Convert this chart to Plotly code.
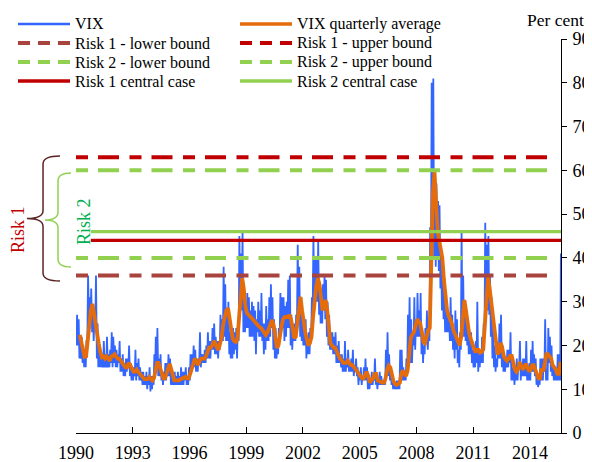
import plotly.graph_objects as go

# Monthly high / low of the daily VIX, Jan 1990 - Aug 2015
vix_high = [
    27, 26, 21, 22, 20, 19, 21, 36, 31, 33, 28, 26,  # 1990
    36, 25, 20, 19, 18, 21, 18, 22, 18, 19, 23, 22,  # 1991
    20, 19, 18, 21, 17, 18, 16, 17, 17, 20, 16, 15,  # 1992
    15, 19, 16, 17, 15, 14, 14, 13, 14, 13, 15, 13,  # 1993
    13, 18, 22, 24, 17, 18, 14, 14, 16, 16, 18, 17,  # 1994
    14, 13, 14, 13, 14, 13, 15, 14, 14, 15, 13, 15,  # 1995
    18, 18, 20, 19, 17, 17, 23, 18, 18, 19, 20, 23,  # 1996
    21, 21, 24, 25, 22, 21, 21, 27, 26, 38, 34, 27,  # 1997
    30, 23, 22, 24, 23, 24, 24, 45, 41, 46, 30, 30,  # 1998
    32, 31, 28, 30, 29, 28, 26, 30, 28, 32, 25, 25,  # 1999
    29, 26, 31, 34, 31, 26, 24, 20, 24, 32, 31, 31,  # 2000
    29, 30, 35, 36, 27, 24, 25, 27, 43, 38, 30, 26,  # 2001
    26, 26, 22, 23, 24, 31, 45, 40, 40, 44, 34, 32,  # 2002
    34, 36, 35, 30, 27, 23, 23, 22, 23, 20, 21, 18,  # 2003
    18, 17, 21, 17, 19, 16, 17, 19, 15, 17, 15, 14,  # 2004
    15, 13, 15, 17, 15, 12, 12, 14, 13, 17, 13, 12,  # 2005
    14, 13, 12, 12, 19, 23, 18, 14, 13, 12, 11, 12,  # 2006
    12, 19, 19, 15, 14, 17, 27, 31, 26, 22, 31, 25,  # 2007
    32, 28, 32, 24, 20, 24, 28, 24, 47, 80, 81, 59,  # 2008
    57, 53, 52, 42, 37, 32, 31, 28, 27, 31, 27, 24,  # 2009
    28, 26, 19, 23, 46, 36, 30, 28, 25, 23, 23, 19,  # 2010
    19, 21, 30, 18, 19, 22, 25, 48, 43, 45, 36, 31,  # 2011
    23, 20, 17, 20, 25, 27, 20, 18, 17, 19, 19, 23,  # 2012
    15, 16, 14, 17, 16, 21, 16, 17, 17, 21, 14, 16,  # 2013
    19, 21, 18, 17, 13, 12, 17, 17, 17, 26, 14, 24,  # 2014
    22, 20, 16, 15, 14, 18, 18, 41,                  # 2015
]
vix_low = [
    20, 20, 17, 17, 16, 15, 15, 21, 25, 26, 23, 21,  # 1990
    24, 17, 15, 15, 15, 15, 15, 15, 15, 15, 16, 15,  # 1991
    16, 15, 15, 16, 14, 14, 13, 13, 14, 15, 13, 12,  # 1992
    12, 13, 12, 13, 12, 12, 11, 11, 11, 10, 11, 9.5,  # 1993
    10, 11, 13, 15, 13, 13, 12, 11, 12, 12, 13, 13,  # 1994
    11, 11, 11, 11, 11, 11, 11, 11, 11, 12, 11, 11,  # 1995
    12, 14, 15, 15, 14, 14, 16, 15, 16, 16, 16, 17,  # 1996
    17, 17, 19, 19, 18, 18, 17, 19, 21, 21, 22, 21,  # 1997
    21, 18, 17, 17, 18, 19, 17, 21, 28, 28, 23, 23,  # 1998
    24, 24, 22, 22, 22, 21, 18, 23, 22, 22, 21, 18,  # 1999
    19, 21, 21, 22, 24, 19, 17, 17, 18, 22, 24, 24,  # 2000
    21, 22, 24, 24, 20, 19, 21, 21, 26, 25, 22, 21,  # 2001
    20, 20, 17, 18, 18, 22, 28, 28, 30, 30, 27, 25,  # 2002
    25, 30, 26, 22, 20, 19, 19, 18, 18, 16, 16, 16,  # 2003
    15, 14, 14, 14, 15, 14, 14, 14, 13, 14, 13, 11,  # 2004
    12, 11, 12, 12, 12, 10, 10, 11, 11, 12, 11, 10,  # 2005
    11, 11, 11, 11, 11, 13, 13, 12, 11, 10, 10, 10,  # 2006
    10, 10, 13, 12, 12, 12, 15, 20, 16, 16, 20, 19,  # 2007
    22, 22, 22, 18, 16, 18, 21, 19, 21, 40, 50, 40,  # 2008
    38, 40, 37, 33, 28, 26, 23, 23, 23, 21, 21, 19,  # 2009
    17, 19, 16, 15, 19, 24, 22, 21, 20, 18, 18, 16,  # 2010
    15, 15, 16, 14, 15, 16, 16, 23, 30, 28, 27, 22,  # 2011
    17, 15, 14, 15, 17, 17, 15, 14, 14, 15, 15, 16,  # 2012
    12, 12, 11, 12, 12, 15, 12, 13, 13, 13, 12, 12,  # 2013
    12, 14, 14, 13, 11, 10.5, 11, 12, 12, 14, 12, 12,  # 2014
    16, 14, 13, 12, 12, 12, 12, 12,                  # 2015
]
# Trailing quarterly average, one value per month
vix_qavg = [
    None, None, 22.4, 20.5, 18.5, 17.4, 17.5, 21, 25, 28, 29.5, 27,  # 1990
    25, 23, 20.5, 18.5, 17.3, 17.5, 17, 17.5, 17, 16.5, 17.5, 17.6,  # 1991
    18, 17.5, 17, 17, 16.5, 16, 15.5, 15, 15, 16, 15.5, 14.5,  # 1992
    14, 14, 14.5, 14, 13.5, 13, 12.5, 12.3, 12.3, 12.3, 12.8, 12.3,  # 1993
    12, 12.5, 14, 16, 16, 15, 13.5, 12.5, 12.5, 13.5, 15, 15.8,  # 1994
    14.5, 13, 12, 12, 12, 12, 12.3, 12.5, 12.5, 12.8, 12.5, 12.5,  # 1995
    13.5, 15, 16, 17, 16.5, 15.5, 16.5, 17, 17, 17, 17.5, 18.5,  # 1996
    19.5, 19.5, 20, 21, 20.5, 19.5, 19, 20.5, 22, 25, 27, 28,  # 1997
    28.5, 26, 23, 21.5, 21, 20.8, 21.5, 26, 31, 35.4, 33, 29,  # 1998
    27.4, 27, 26.8, 26.5, 26, 25.5, 25, 24.5, 24.2, 24, 23.5, 23,  # 1999
    22.4, 23, 24, 25, 25.8, 24.5, 22, 19.4, 20, 22.5, 24.5, 26,  # 2000
    26.5, 26.5, 26.5, 27, 26, 24, 21.7, 22, 25, 29, 31.1, 28,  # 2001
    25, 23, 21.5, 20, 20.5, 22, 26.5, 31, 33.5, 35.4, 34, 31,  # 2002
    28, 29, 30.4, 28, 24, 20.5, 20, 19.5, 19.5, 18.5, 18, 17,  # 2003
    16.7, 16, 16, 16, 16.5, 16, 15.5, 15.5, 15, 14.5, 13.7, 13.5,  # 2004
    13, 12.5, 12.5, 13.5, 14, 13, 11.5, 12, 12.5, 13.5, 13.5, 12,  # 2005
    11.8, 11.8, 11.5, 11.5, 12.5, 14.5, 15.4, 15, 13, 11.8, 11.2, 11,  # 2006
    11.2, 11.5, 13.5, 14.3, 13.5, 13, 14.3, 18, 21.8, 22.5, 23, 24.5,  # 2007
    26, 25.5, 25, 23, 20.8, 20.5, 22, 23.4, 24, 40, 55, 59.6,  # 2008
    52, 45.9, 44, 42, 40, 35, 31.2, 28, 26.7, 26, 25, 23.5,  # 2009
    22.5, 21.5, 20.5, 20, 22, 28, 30.4, 28, 25, 22.8, 21.5, 20.6,  # 2010
    19.5, 18.4, 19, 19, 18.4, 18.5, 19.1, 24, 31, 35.8, 33, 30,  # 2011
    26.7, 23, 19.5, 18, 18.5, 20.6, 19.5, 17.5, 16.9, 16.5, 17, 17.6,  # 2012
    17.6, 16, 14.5, 14, 14.5, 16.2, 15.5, 14.5, 15, 15.8, 15, 14,  # 2013
    14.5, 15.5, 15.5, 14.5, 13.2, 12.5, 12.5, 14.7, 14, 16, 18, 18,  # 2014
    17.4, 17, 15.5, 15, 14.5, 13.5, 13.5, 16.3,  # 2015
]

# Scenario levels (per cent)
risk_names = ["Risk 1 - lower bound", "Risk 1 - upper bound",
              "Risk 2 - lower bound", "Risk 2 - upper bound",
              "Risk 1 central case", "Risk 2 central case"]
risk_levels = [36, 63, 40, 60, 44, 46]
risk_start = ["1990-01-01", "1990-01-01", "1990-01-01", "1990-01-01",
              "1990-10-15", "1990-10-15"]
risk_end = ["2015-01-01", "2015-01-01", "2015-01-01", "2015-01-01",
            "2015-08-24", "2015-08-24"]

tick_years = [1990, 1993, 1996, 1999, 2002, 2005, 2008, 2011, 2014]

FONT = "Liberation Serif, Times New Roman, serif"
BLUE = "#3366ff"
ORANGE = "#e46c0a"
RED = "#c00000"
BROWN = "#a8433d"
GREEN = "#92d050"
DASH = "12px,10px,21px,10.5px"
risk_styles = [
    dict(color=BROWN, width=4, dash=DASH),
    dict(color=RED, width=4, dash=DASH),
    dict(color=GREEN, width=4, dash=DASH),
    dict(color=GREEN, width=4, dash=DASH),
    dict(color=RED, width=3.3),
    dict(color=GREEN, width=3.3),
]

# the page body has an 8px margin, so the figure is 8px smaller than the window
W, H = 584, 454
ML, MR, MT, MB = 68, 31, 31, 29
PLOT_L, PLOT_B = 76, 433        # plot corner in window pixels


def fx(px):
    return (px - PLOT_L) / (W - ML - MR)


def fy(py):
    return (PLOT_B - py) / (H - MT - MB)


# daily-looking VIX line: low then high inside each month
vix_x, vix_y = [], []
for i, (lo, hi) in enumerate(zip(vix_low, vix_high)):
    yr, mo = 1990 + i // 12, i % 12 + 1
    vix_x += [f"{yr}-{mo:02d}-08", f"{yr}-{mo:02d}-22"]
    vix_y += [lo, hi]
qavg_x = [f"{1990 + i // 12}-{i % 12 + 1:02d}-15" for i in range(len(vix_qavg))]

fig = go.Figure()
fig.add_trace(go.Scatter(x=vix_x, y=vix_y, mode="lines", name="VIX",
                         line=dict(color=BLUE, width=1.8)))
fig.add_trace(go.Scatter(x=qavg_x, y=vix_qavg, mode="lines",
                         name="VIX quarterly average",
                         line=dict(color=ORANGE, width=3.8)))
for name, lvl, x0, x1, st in zip(risk_names, risk_levels, risk_start,
                                 risk_end, risk_styles):
    fig.add_trace(go.Scatter(x=[x0, x1], y=[lvl, lvl], mode="lines",
                             name=name, line=st))

# hand-made two-column legend
legend_rows = [
    (("VIX", dict(color=BLUE, width=2.5)),
     ("VIX quarterly average", dict(color=ORANGE, width=3.5))),
    (("Risk 1 - lower bound", dict(color=BROWN, width=4, dash="12px,8px")),
     ("Risk 1 - upper bound", dict(color=RED, width=4, dash="12px,8px"))),
    (("Risk 2 - lower bound", dict(color=GREEN, width=4, dash="12px,8px")),
     ("Risk 2 - upper bound", dict(color=GREEN, width=4, dash="12px,8px"))),
    (("Risk 1 central case", dict(color=RED, width=3.3)),
     ("Risk 2 central case", dict(color=GREEN, width=3.3))),
]
shapes, annotations = [], []
for r, row in enumerate(legend_rows):
    py = 24 + 19 * r
    for c, (label, ln) in enumerate(row):
        x0 = 18 + 222 * c
        shapes.append(dict(type="line", xref="paper", yref="paper",
                           x0=fx(x0), x1=fx(x0 + 52), y0=fy(py), y1=fy(py),
                           line=ln))
        annotations.append(dict(text=label, xref="paper", yref="paper",
                                x=fx(x0 + 55), y=fy(py), xanchor="left",
                                yanchor="middle", showarrow=False,
                                font=dict(size=16, color="black")))


def brace(x_end, x_bar, x_tip, y_top, y_bot, r=8):
    ym = (y_top + y_bot) / 2
    pts = [
        ("M", [(x_end, y_top)]),
        ("Q", [(x_bar, y_top), (x_bar, y_top + r)]),
        ("L", [(x_bar, ym - r)]),
        ("Q", [(x_bar, ym), (x_tip, ym)]),
        ("Q", [(x_bar, ym), (x_bar, ym + r)]),
        ("L", [(x_bar, y_bot - r)]),
        ("Q", [(x_bar, y_bot), (x_end, y_bot)]),
    ]
    return " ".join(cmd + " " + " ".join(f"{fx(a):.4f},{fy(b):.4f}" for a, b in p)
                    for cmd, p in pts)


shapes.append(dict(type="path", xref="paper", yref="paper",
                   path=brace(60, 43, 27, 156, 281),
                   line=dict(color="#5a2424", width=1.5)))
shapes.append(dict(type="path", xref="paper", yref="paper",
                   path=brace(71, 58, 45, 173, 267),
                   line=dict(color=GREEN, width=1.5)))
annotations.append(dict(text="Risk 1", xref="paper", yref="paper",
                        x=fx(18), y=fy(230), textangle=-90, showarrow=False,
                        xanchor="center", yanchor="middle",
                        font=dict(size=18, color=RED)))
annotations.append(dict(text="Risk 2", xref="paper", yref="paper",
                        x=fx(84), y=fy(222), textangle=-90, showarrow=False,
                        xanchor="center", yanchor="middle",
                        font=dict(size=18, color="#00b050")))
annotations.append(dict(text="Per cent", xref="paper", yref="paper",
                        x=fx(555), y=fy(20), showarrow=False,
                        xanchor="center", yanchor="middle",
                        font=dict(size=17.5, color="black")))

fig.update_layout(
    width=W, height=H,
    margin=dict(l=ML, r=MR, t=MT, b=MB, pad=0),
    paper_bgcolor="white", plot_bgcolor="white",
    font=dict(family=FONT, size=18, color="black"),
    showlegend=False,
    shapes=shapes, annotations=annotations,
    xaxis=dict(type="date", range=["1990-01-01", "2015-08-24"],
               tickvals=[f"{y}-01-01" for y in tick_years],
               ticktext=[str(y) for y in tick_years],
               ticks="inside", ticklen=6, tickcolor="black",
               ticklabelstandoff=3,
               showline=True, linecolor="black", linewidth=1,
               showgrid=False, zeroline=False, automargin=False),
    yaxis=dict(range=[0, 90], dtick=10, side="right",
               ticks="outside", ticklen=5, tickcolor="black",
               ticklabelstandoff=2,
               showline=True, linecolor="black", linewidth=1,
               showgrid=False, zeroline=False, automargin=False),
)

fig.write_html("out.html")
